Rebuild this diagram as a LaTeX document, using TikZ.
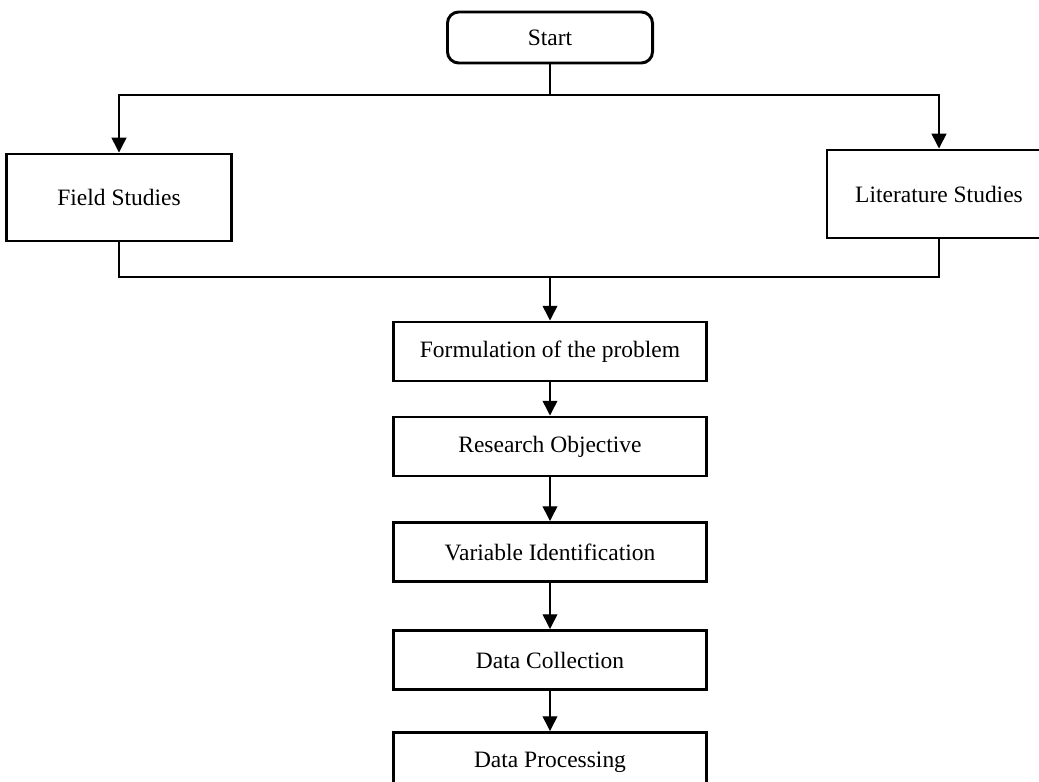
\documentclass[tikz,border=0pt]{standalone}
\usepackage{fontspec}
\setmainfont{Liberation Serif}
\usetikzlibrary{arrows.meta}

\begin{document}
\begin{tikzpicture}[x=0.025cm,y=-0.025cm]
  \tikzstyle{every node}=[font=\fontsize{16.7}{20}\selectfont]
  \tikzstyle{box}=[draw,line width=2.1pt,inner sep=0pt]
  \tikzstyle{midbox}=[box,minimum width=7.8cm,minimum height=1.475cm]
  \tikzstyle{line}=[line width=1.05pt]
  \tikzstyle{arrow}=[line,-{Triangle[width=10.5pt,length=10.5pt]}]
  \useasboundingbox (0,0) rectangle (1039,782);
  \clip (0,0) rectangle (1039,782);
  \node[box,rounded corners=8pt,minimum width=5.125cm,minimum height=1.275cm] (start) at (550,37.5) {Start};
  \node[box,minimum width=5.625cm,minimum height=2.175cm] (field) at (119,197.5) {Field Studies};
  \node[box,minimum width=5.6cm,minimum height=2.2cm] (lit) at (939,194) {Literature Studies};
  \node[midbox] (formul) at (550,351.5) {Formulation of the problem};
  \node[midbox] (objective) at (550,446.5) {Research Objective};
  \node[midbox] (variable) at (550,552) {Variable Identification};
  \node[midbox] (collect) at (550,660) {Data Collection};
  \node[midbox] (process) at (550,762) {Data Processing};
  \coordinate (split) at (550,95);
  \coordinate (join) at (550,277);
  % branches
  \draw[line] (start) -- (split);
  \draw[arrow] (split) -| (field);
  \draw[arrow] (split) -| (lit);
  \draw[line] (field) |- (join);
  \draw[line] (lit) |- (join);
  \draw[arrow] (join) -- (formul);
  % main column
  \path[arrow]
    (formul) edge (objective)
    (objective) edge (variable)
    (variable) edge (collect)
    (collect) edge (process);
\end{tikzpicture}
\end{document}
